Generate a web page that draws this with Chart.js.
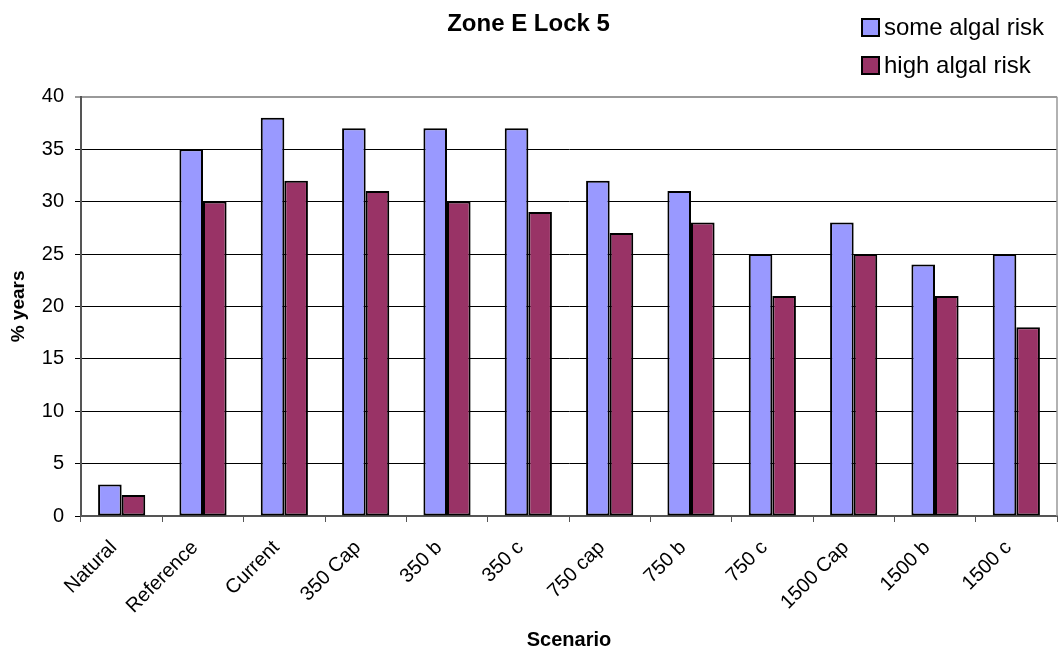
<!DOCTYPE html>
<html lang="en">
<head>
  <meta charset="UTF-8" />
  <title>Zone E Lock 5</title>
  <script src="https://cdn.jsdelivr.net/npm/chart.js"></script>
  <style>
    body { margin: 0; padding: 0; background: white; }
    .wrap { width: 1058px; height: 652px; }
  </style>
</head>
<body>
  <div class="wrap"><canvas id="chart" width="1058" height="652"></canvas></div>

  <script>
    const scenarios = ["Natural", "Reference", "Current", "350 Cap", "350 b", "350 c",
                       "750 cap", "750 b", "750 c", "1500 Cap", "1500 b", "1500 c"];
    const someRisk = [3, 35, 38, 37, 37, 37, 32, 31, 25, 28, 24, 25];
    const highRisk = [2, 30, 32, 31, 30, 29, 27, 28, 21, 25, 21, 18];
    const yTicks = [0, 5, 10, 15, 20, 25, 30, 35, 40];

    const FONT = "'Liberation Sans', Arial, sans-serif";

    // plot frame (grey right side) + stacked legend top-right
    const extras = {
      id: "extras",
      beforeDatasetsDraw(chart) {
        const { ctx, chartArea: a } = chart;
        ctx.save();
        ctx.strokeStyle = "#999";
        ctx.lineWidth = 1.5;
        ctx.beginPath();
        ctx.moveTo(a.right, a.top);
        ctx.lineTo(a.right, a.bottom);
        ctx.stroke();
        ctx.restore();
      },
      afterDraw(chart) {
        const ctx = chart.ctx;
        ctx.save();
        ctx.font = "24px " + FONT;
        ctx.textBaseline = "middle";
        chart.data.datasets.forEach((ds, i) => {
          const y = 19 + i * 38;
          ctx.fillStyle = ds.backgroundColor;
          ctx.fillRect(862, y, 17, 17);
          ctx.strokeStyle = "#000";
          ctx.lineWidth = 2;
          ctx.strokeRect(862, y, 17, 17);
          ctx.fillStyle = "#000";
          ctx.fillText(ds.label, 884, y + 9);
        });
        ctx.restore();
      }
    };

    new Chart(document.getElementById("chart"), {
      type: "bar",
      data: {
        labels: scenarios,
        datasets: [
          { label: "some algal risk", data: someRisk, backgroundColor: "#9999FF",
            borderColor: "#000", borderWidth: 2, borderSkipped: false },
          { label: "high algal risk", data: highRisk, backgroundColor: "#993366",
            borderColor: "#000", borderWidth: 2, borderSkipped: false }
        ]
      },
      options: {
        responsive: false,
        animation: false,
        layout: { padding: { right: 1 } },
        datasets: { bar: { categoryPercentage: 0.58, barPercentage: 1 } },
        plugins: {
          legend: { display: false },
          tooltip: { enabled: false },
          title: {
            display: true,
            text: "Zone E Lock 5",
            color: "#000",
            font: { family: FONT, size: 24, weight: "bold" },
            padding: { top: 10, bottom: 58 }
          }
        },
        scales: {
          x: {
            grid: { display: true, drawOnChartArea: false, offset: true, tickLength: 6, color: "#555" },
            border: { color: "#555", width: 2 },
            ticks: { color: "#000", font: { family: FONT, size: 20 }, maxRotation: 45, minRotation: 45,
                     padding: 14, labelOffset: -8 },
            title: { display: true, text: "Scenario", color: "#000",
                     font: { family: FONT, size: 20, weight: "bold" }, padding: { top: 4, bottom: 0 } },
            afterFit(scale) { scale.height = 136; }
          },
          y: {
            min: 0, max: 40,
            afterBuildTicks(scale) { scale.ticks = yTicks.map(v => ({ value: v })); },
            grid: {
              tickLength: 6,
              color: ctx => ctx.tick && ctx.tick.value === 40 ? "#999" : "#000",
              lineWidth: ctx => ctx.tick && ctx.tick.value === 40 ? 2 : 1
            },
            border: { color: "#555", width: 2 },
            ticks: { color: "#000", font: { family: FONT, size: 20 }, padding: 11 },
            title: { display: true, text: "% years", color: "#000",
                     font: { family: FONT, size: 19, weight: "bold" }, padding: { top: 7, bottom: 0 } },
            afterFit(scale) { scale.width = 81; }
          }
        }
      },
      plugins: [extras]
    });
  </script>
</body>
</html>
